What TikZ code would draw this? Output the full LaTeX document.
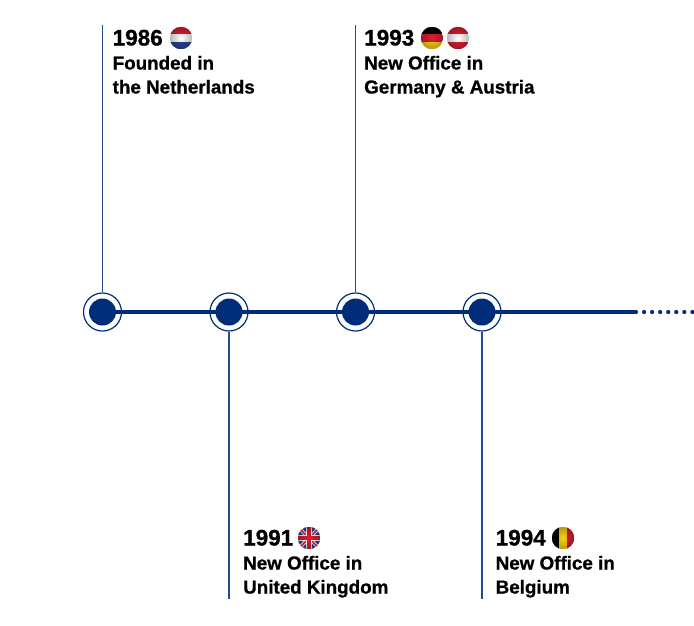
\documentclass[tikz,border=0pt]{standalone}
\usepackage{fontspec}
\setmainfont[BoldFeatures={FakeBold=0.9}]{Liberation Sans}
\usetikzlibrary{fadings}
\definecolor{tlnavy}{RGB}{0,45,122}
\definecolor{flagred}{RGB}{222,30,52}
\definecolor{flagblue}{RGB}{40,72,150}
\definecolor{flaggold}{RGB}{250,210,20}
\tikzfading[name=flagedge,inner color=transparent!100,outer color=transparent!72]
\tikzset{
  ring/.style={circle,draw=tlnavy,line width=0.012cm,fill=white,minimum size=0.38cm,inner sep=0},
  dot/.style={circle,fill=tlnavy,minimum size=0.27cm,inner sep=0},
  stem/.style={draw=tlnavy!85,line width=0.0125cm},
  axis/.style={draw=tlnavy,line width=0.04cm},
  year/.style={anchor=base west,inner sep=0,font=\fontsize{6.4}{7}\selectfont\bfseries},
  label/.style={anchor=base west,inner sep=0,font=\fontsize{5.35}{6}\selectfont\bfseries},
  flag/.style={circle,minimum size=0.225cm,inner sep=0},
  hbands/.style n args={3}{flag,path picture={
      \fill[#1] (path picture bounding box.north west) rectangle ([yshift=-0.075cm]path picture bounding box.north east);
      \fill[#2] ([yshift=-0.075cm]path picture bounding box.north west) rectangle ([yshift=0.075cm]path picture bounding box.south east);
      \fill[#3] ([yshift=0.075cm]path picture bounding box.south west) rectangle (path picture bounding box.south east);
      \fill[black,path fading=flagedge] (path picture bounding box.south west) rectangle (path picture bounding box.north east);}},
  vbands/.style n args={3}{flag,path picture={
      \fill[#1] (path picture bounding box.north west) rectangle ([xshift=0.075cm]path picture bounding box.south west);
      \fill[#2] ([xshift=0.075cm]path picture bounding box.north west) rectangle ([xshift=-0.075cm]path picture bounding box.south east);
      \fill[#3] ([xshift=-0.075cm]path picture bounding box.north east) rectangle (path picture bounding box.south east);
      \fill[black,path fading=flagedge] (path picture bounding box.south west) rectangle (path picture bounding box.north east);}},
  ukflag/.style={flag,path picture={
      \fill[flagblue] (path picture bounding box.south west) rectangle (path picture bounding box.north east);
      \draw[white,line width=0.035cm] (path picture bounding box.south west) -- (path picture bounding box.north east);
      \draw[white,line width=0.035cm] (path picture bounding box.north west) -- (path picture bounding box.south east);
      \draw[flagred,line width=0.014cm] (path picture bounding box.south west) -- (path picture bounding box.north east);
      \draw[flagred,line width=0.014cm] (path picture bounding box.north west) -- (path picture bounding box.south east);
      \draw[white,line width=0.06cm] (path picture bounding box.south) -- (path picture bounding box.north);
      \draw[white,line width=0.06cm] (path picture bounding box.west) -- (path picture bounding box.east);
      \draw[flagred,line width=0.035cm] (path picture bounding box.south) -- (path picture bounding box.north);
      \draw[flagred,line width=0.035cm] (path picture bounding box.west) -- (path picture bounding box.east);
      \fill[black,path fading=flagedge] (path picture bounding box.south west) rectangle (path picture bounding box.north east);}}
}
\begin{document}
\begin{tikzpicture}
    \useasboundingbox (0,0) rectangle (6.94,6.25);

    % anillos
    \foreach \n\x in {a/1.025,b/2.29,c/3.555,d/4.82}{
      \node[ring] (ring\n) at (\x,3.13) {};
    }

    % linea principal
    \coordinate (axisend) at (6.36,3.13);
    \coordinate (dotsend) at (6.94,3.13);
    \draw[axis] (ringa.center) -- (axisend);
    \draw[tlnavy,line width=0.042cm,line cap=round,dash pattern=on 0pt off 0.0805cm] (axisend) -- (dotsend);

    \foreach \n\x in {a/1.025,b/2.29,c/3.555,d/4.82}{
      \node[dot] (dot\n) at (\x,3.13) {};
    }

    % lineas verticales
    \coordinate (topa) at (1.025,6.00);
    \coordinate (topc) at (3.555,6.00);
    \coordinate (botb) at (2.29,0.26);
    \coordinate (botd) at (4.82,0.26);
    \draw[stem] (ringa) -- (topa);
    \draw[stem] (ringc) -- (topc);
    \draw[stem] (ringb) -- (botb);
    \draw[stem] (ringd) -- (botd);

    % textos de arriba
    \node[year] (yeara) at (1.12,5.795) {1986};
    \node[label] (titlea) at (1.12,5.555) {Founded in};
    \node[label] (placea) at (1.12,5.315) {the Netherlands};
    \node[hbands={flagred}{white}{flagblue}] (flagnl) at (1.81,5.87) {};

    \node[year] (yearc) at (3.635,5.795) {1993};
    \node[label] (titlec) at (3.635,5.555) {New Office in};
    \node[label] (placec) at (3.635,5.315) {Germany \& Austria};
    \node[hbands={black}{flagred}{flaggold}] (flagde) at (4.32,5.87) {};
    \node[hbands={flagred}{white}{flagred}] (flagat) at (4.58,5.87) {};

    % textos de abajo
    \node[year] (yearb) at (2.425,0.795) {1991};
    \node[label] (titleb) at (2.425,0.555) {New Office in};
    \node[label] (placeb) at (2.425,0.315) {United Kingdom};
    \node[ukflag] (flaguk) at (3.09,0.87) {};

    \node[year] (yeard) at (4.95,0.795) {1994};
    \node[label] (titled) at (4.95,0.555) {New Office in};
    \node[label] (placed) at (4.95,0.315) {Belgium};
    \node[vbands={black}{flaggold}{flagred}] (flagbe) at (5.63,0.87) {};
  \end{tikzpicture}
\end{document}
